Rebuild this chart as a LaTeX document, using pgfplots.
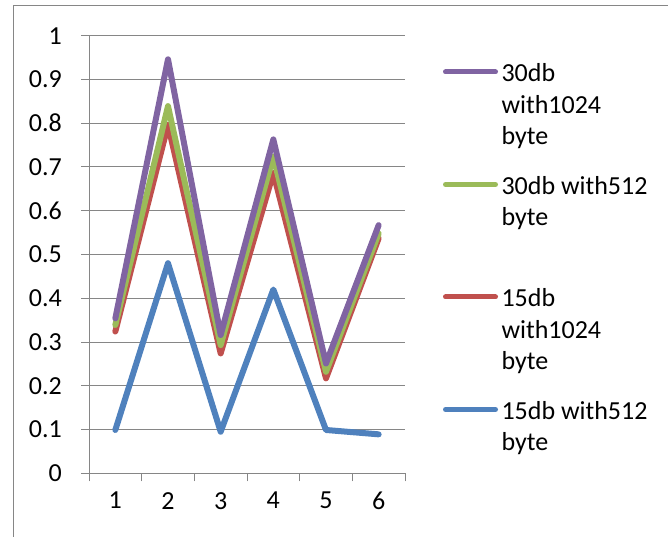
\documentclass[border=0pt]{standalone}
\usepackage{fontspec}
\setmainfont{Carlito}
\usepackage{pgfplots}
\pgfplotsset{compat=1.18}
\definecolor{cpurple}{HTML}{8064A2}
\definecolor{cgreen}{HTML}{9BBB59}
\definecolor{cred}{HTML}{C0504D}
\definecolor{cblue}{HTML}{4F81BD}
\definecolor{cgrid}{HTML}{868686}
\newcommand{\lgd}[1]{\parbox[t]{160pt}{\fontsize{26}{31.5}\selectfont\strut #1}}
\begin{document}
\begin{tikzpicture}
\useasboundingbox (0pt,0pt) rectangle (668pt,537pt);
\draw[cgrid, line width=1pt] (13pt,-20pt) -- (13pt,531pt) -- (700pt,531pt);
\begin{axis}[
  at={(89pt,63.7pt)}, anchor=south west,
  width=316pt, height=437.6pt, scale only axis,
  xmin=0.5, xmax=6.5, ymin=0, ymax=1,
  axis x line*=bottom, axis y line*=left,
  axis line style={-, cgrid, line width=1pt},
  xtick={0.5,1.5,2.5,3.5,4.5,5.5,6.5}, xticklabels={},
  extra x ticks={1,2,3,4,5,6},
  extra x tick style={major tick length=0pt, grid=none},
  ytick={0,0.1,0.2,0.3,0.4,0.5,0.6,0.7,0.8,0.9,1},
  tick align=outside, major tick length=8pt,
  tick style={cgrid, line width=1pt},
  ymajorgrids, grid style={cgrid, line width=1pt},
  /pgf/number format/assume math mode=true,
  tick label style={font=\fontsize{26}{30}\selectfont},
  yticklabel style={anchor=east, inner sep=0pt, xshift=-19pt},
  xticklabel style={anchor=north, inner sep=0pt, yshift=-18.7pt},
  no markers,
  every axis plot/.append style={line width=6pt, line join=round, line cap=round},
  legend style={at={(rel axis cs:1,1)}, anchor=north west, xshift=38pt, yshift=-23.2pt,
    draw=none, fill=none, inner sep=0pt, outer sep=0pt, row sep=0pt, column sep=3.5pt,
    nodes={inner sep=0pt, text height=23.1pt, text depth=89.4pt}, cells={anchor=base west}},
  reverse legend,
  legend image code/.code={\draw[#1, line width=5pt] (0pt,10pt) -- (50pt,10pt);},
]
\addplot[cblue] coordinates {(1,0.099) (2,0.480) (3,0.095) (4,0.420) (5,0.099) (6,0.089)};
\addlegendentry{\lgd{15db with512\\byte}}
\addplot[cred] coordinates {(1,0.324) (2,0.796) (3,0.274) (4,0.686) (5,0.217) (6,0.537)};
\addlegendentry{\lgd{15db\\with1024\\byte}}
\addplot[cgreen] coordinates {(1,0.339) (2,0.839) (3,0.293) (4,0.724) (5,0.232) (6,0.548)};
\addlegendentry{\lgd{30db with512\\byte}}
\addplot[cpurple] coordinates {(1,0.354) (2,0.946) (3,0.316) (4,0.763) (5,0.251) (6,0.567)};
\addlegendentry{\lgd{30db\\with1024\\byte}}
\end{axis}
\end{tikzpicture}
\end{document}
